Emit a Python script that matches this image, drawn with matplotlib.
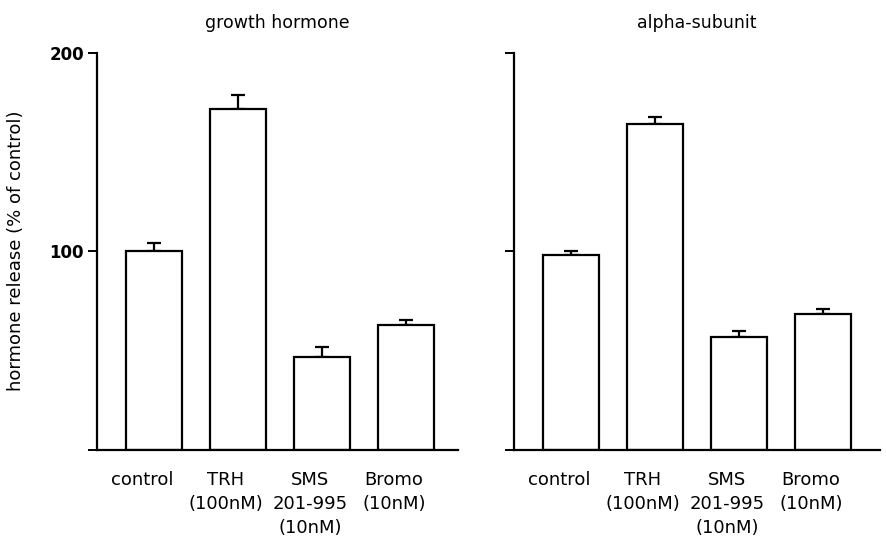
import numpy as np
import matplotlib.pyplot as plt
from matplotlib.transforms import ScaledTranslation

categories = ['control', 'TRH\n(100nM)', 'SMS\n201-995\n(10nM)', 'Bromo\n(10nM)']

gh_values = [100, 172, 47, 63]
gh_errors = [4.5, 7, 5, 2.5]

alpha_values = [98, 164, 57, 68.5]
alpha_errors = [2, 4, 3, 2.5]

titles = ['growth hormone', 'alpha-subunit']

fig = plt.figure(figsize=(8.87, 5.47), dpi=100)
ax1 = fig.add_axes([97 / 887, 97 / 547, 361 / 887, 397 / 547])
ax2 = fig.add_axes([514 / 887, 97 / 547, 366 / 887, 397 / 547])

x = np.arange(len(categories))
shift = ScaledTranslation(-0.12, 0, fig.dpi_scale_trans)

for ax, vals, errs, title, right_lim in [(ax1, gh_values, gh_errors, titles[0], 3.62),
                                         (ax2, alpha_values, alpha_errors, titles[1], 3.68)]:
    ax.bar(x, vals, width=0.67, color='white', edgecolor='black', linewidth=1.6, zorder=2)
    ax.errorbar(x, vals, yerr=[np.zeros(len(errs)), errs], fmt='none', ecolor='black',
                elinewidth=1.6, capsize=5, capthick=1.6, zorder=1)
    ax.set_xlim(-0.68, right_lim)
    ax.set_ylim(0, 200)
    ax.set_yticks([0, 100, 200])
    ax.spines['top'].set_visible(False)
    ax.spines['right'].set_visible(False)
    ax.spines['left'].set_linewidth(1.6)
    ax.spines['bottom'].set_linewidth(1.6)
    ax.tick_params(axis='y', length=6.5, width=1.4, labelsize=12, pad=3)
    ax.tick_params(axis='x', length=0, pad=15, labelsize=13)
    ax.set_xticks(x)
    ax.set_xticklabels(categories, linespacing=1.45, va='top')
    for lab in ax.get_xticklabels():
        lab.set_transform(lab.get_transform() + shift)
    ax.set_title(title, fontsize=12.5, pad=18)

ax1.set_yticklabels(['', '100', '200'], fontweight='bold')
ax2.set_yticklabels(['', '', ''])
fig.text(16 / 887, 1 - 251 / 547, 'hormone release (% of control)', fontsize=13,
         rotation=90, ha='center', va='center')

plt.savefig('out.png', dpi=100)
